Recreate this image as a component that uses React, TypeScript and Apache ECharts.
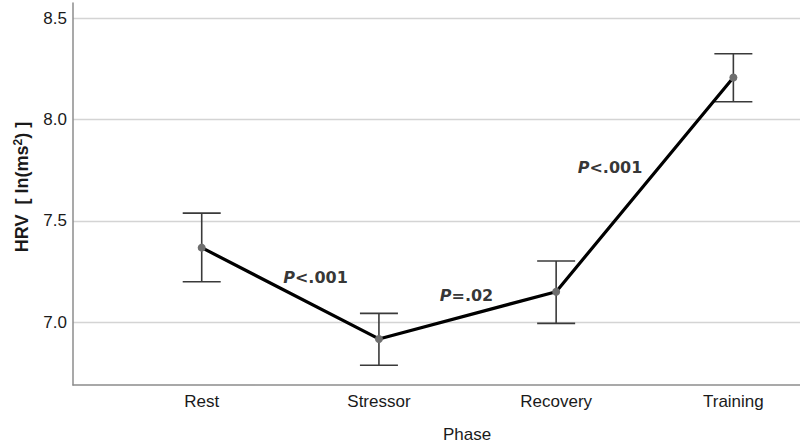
import React, { useEffect, useRef } from "react";
import * as echarts from "echarts";

const categories = ["Rest", "Stressor", "Recovery", "Training"];
const means = [7.368, 6.918, 7.151, 8.207];
const lower = [7.2, 6.788, 6.995, 8.087];
const upper = [7.538, 7.044, 7.302, 8.324];
const yTicks = [7.0, 7.5, 8.0, 8.5];
const annotations = [
  { x: 0.642, y: 7.219, p: "P", rest: "<.001" },
  { x: 1.494, y: 7.13, p: "P", rest: "=.02" },
  { x: 2.304, y: 7.763, p: "P", rest: "<.001" },
];

export default function App() {
  const ref = useRef<HTMLDivElement>(null);
  useEffect(() => {
    if (!ref.current) return;
    const chart = echarts.init(ref.current, null, { renderer: "svg" });
    const font = "'Liberation Sans', Arial, sans-serif";
    chart.setOption({
      animation: false,
      backgroundColor: "#ffffff",
      grid: { left: 73, top: 3, right: 0, bottom: 60, containLabel: false },
      xAxis: {
        type: "value",
        min: -0.7263,
        max: 3.376,
        axisLine: { show: true, onZero: false, lineStyle: { color: "#8c8c8c", width: 1.5 } },
        axisTick: { show: false, customValues: [0, 1, 2, 3] },
        splitLine: { show: false },
        axisLabel: {
          customValues: [0, 1, 2, 3],
          formatter: (v: number) => categories[Math.round(v)] ?? "",
          color: "#1a1a1a",
          fontSize: 17,
          fontFamily: font,
          margin: 8,
        },
      },
      yAxis: {
        type: "value",
        min: 6.691,
        max: 8.574,
        axisLine: { show: true, onZero: false, lineStyle: { color: "#8c8c8c", width: 1.5 } },
        axisTick: { show: false, customValues: yTicks },
        splitLine: { show: true, lineStyle: { color: "#d4d4d4", width: 1.3 } },
        axisLabel: {
          customValues: yTicks,
          formatter: (v: number) => v.toFixed(1),
          color: "#1a1a1a",
          fontSize: 17,
          fontFamily: font,
          margin: 6,
        },
      },
      graphic: [
        {
          type: "text",
          x: 22,
          y: 187,
          rotation: Math.PI / 2,
          style: {
            text: "HRV  [ ln(ms{sup|2}) ]",
            fill: "#1a1a1a",
            font: `bold 18px ${font}`,
            align: "center",
            verticalAlign: "middle",
            rich: {
              sup: {
                fontSize: 12,
                fontWeight: "bold",
                fontFamily: font,
                fill: "#1a1a1a",
                verticalAlign: "top",
                padding: [0, 0, 8, 0],
              },
            },
          },
        },
        {
          type: "text",
          x: 467,
          y: 434,
          style: {
            text: "Phase",
            fill: "#1a1a1a",
            font: `17px ${font}`,
            align: "center",
            verticalAlign: "middle",
          },
        },
      ],
      series: [
        {
          type: "custom",
          z: 2,
          silent: true,
          data: categories.map((_, i) => [i, lower[i], upper[i]]),
          renderItem: (params: any, api: any) => {
            const x = api.value(0);
            const lo = api.coord([x, api.value(1)]);
            const hi = api.coord([x, api.value(2)]);
            const hw = 19;
            const style = { stroke: "#3a3a3a", lineWidth: 1.6 };
            return {
              type: "group",
              children: [
                { type: "line", shape: { x1: lo[0], y1: lo[1], x2: hi[0], y2: hi[1] }, style },
                { type: "line", shape: { x1: lo[0] - hw, y1: lo[1], x2: lo[0] + hw, y2: lo[1] }, style },
                { type: "line", shape: { x1: hi[0] - hw, y1: hi[1], x2: hi[0] + hw, y2: hi[1] }, style },
              ],
            };
          },
        },
        {
          type: "line",
          z: 3,
          data: means.map((m, i) => [i, m]),
          lineStyle: { color: "#000", width: 3.2 },
          symbol: "circle",
          symbolSize: 8,
          itemStyle: { color: "#6e6e6e" },
          silent: true,
        },
        {
          type: "scatter",
          z: 4,
          symbolSize: 0,
          silent: true,
          data: annotations.map((a) => ({
            value: [a.x, a.y],
            label: {
              show: true,
              position: "inside",
              formatter: `{p|${a.p}}{t|${a.rest}}`,
              rich: {
                p: {
                  fontFamily: "'DejaVu Sans', Verdana, sans-serif",
                  fontWeight: "bold",
                  fontStyle: "italic",
                  fontSize: 16,
                  color: "#000",
                },
                t: {
                  fontFamily: "'DejaVu Sans', Verdana, sans-serif",
                  fontWeight: "bold",
                  fontSize: 16,
                  color: "#000",
                },
              },
            },
          })),
        },
      ],
    });
    return () => chart.dispose();
  }, []);
  return <div ref={ref} style={{ width: 800, height: 445, position: "absolute", left: 0, top: 0 }} />;
}
